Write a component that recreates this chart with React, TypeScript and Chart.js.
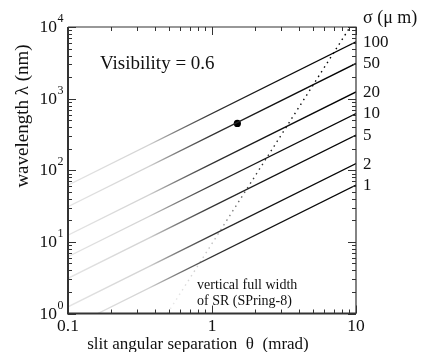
import React, { useEffect, useRef } from "react";
import { Chart, registerables } from "chart.js";

Chart.register(...registerables);

// ---- data ----
const thetaEnds = [0.1, 10]; // mrad
const sigmaLabels = ["1", "2", "5", "10", "20", "50", "100"]; // µm
const lambdaAtThetaMin = [0.62, 1.24, 3.1, 6.2, 12.4, 31, 62]; // nm at θ = 0.1
const lambdaAtThetaMax = [62, 124, 310, 620, 1240, 3100, 6200]; // nm at θ = 10
const srTheta = [0.49, 9.1];
const srLambda = [1, 10000];
const markTheta = [1.5];
const markLambda = [450];
const xMajorTicks = [0.1, 1, 10];
const xTickLabels = ["0.1", "1", "10"];
const yMajorTicks = [1, 10, 100, 1000, 10000];
const yTickExponents = ["0", "1", "2", "3", "4"];

const SERIF = '"Liberation Serif", "Times New Roman", serif';

function lineGradient(chart: any) {
  const { ctx, chartArea } = chart;
  if (!chartArea) return "#000";
  const g = ctx.createLinearGradient(chartArea.left, 0, chartArea.right, 0);
  g.addColorStop(0, "#e4e4e4");
  g.addColorStop(0.28, "#d2d2d2");
  g.addColorStop(0.37, "#808080");
  g.addColorStop(0.5, "#333");
  g.addColorStop(0.7, "#111");
  g.addColorStop(1, "#000");
  return g;
}

function srGradient(chart: any) {
  const { ctx, chartArea } = chart;
  if (!chartArea) return "#000";
  const g = ctx.createLinearGradient(0, chartArea.bottom, 0, chartArea.top);
  g.addColorStop(0, "#eeeeee");
  g.addColorStop(0.25, "#c0c0c0");
  g.addColorStop(0.45, "#444");
  g.addColorStop(0.7, "#111");
  g.addColorStop(1, "#000");
  return g;
}

const framePlugin = {
  id: "framePlugin",
  afterDraw(chart: any) {
    const { ctx, chartArea, scales } = chart;
    const xs = scales.x;
    const ys = scales.y;
    const { left, right, top, bottom } = chartArea;
    ctx.save();
    // ticks
    ctx.strokeStyle = "#333";
    ctx.lineWidth = 1;
    const minorMult = [2, 3, 4, 5, 6, 7, 8, 9];
    const drawXTick = (v: number, len: number) => {
      const px = Math.round(xs.getPixelForValue(v)) + 0.5;
      ctx.beginPath();
      ctx.moveTo(px, bottom);
      ctx.lineTo(px, bottom - len);
      ctx.moveTo(px, top);
      ctx.lineTo(px, top + len);
      ctx.stroke();
    };
    const drawYTick = (v: number, len: number) => {
      const py = Math.round(ys.getPixelForValue(v)) + 0.5;
      ctx.beginPath();
      ctx.moveTo(left, py);
      ctx.lineTo(left + len, py);
      ctx.moveTo(right, py);
      ctx.lineTo(right - len, py);
      ctx.stroke();
    };
    xMajorTicks.forEach((v) => drawXTick(v, 8));
    for (let i = 0; i < xMajorTicks.length - 1; i++) {
      minorMult.forEach((m) => drawXTick(xMajorTicks[i] * m, 4));
    }
    yMajorTicks.forEach((v) => drawYTick(v, 8));
    for (let i = 0; i < yMajorTicks.length - 1; i++) {
      minorMult.forEach((m) => drawYTick(yMajorTicks[i] * m, 4));
    }
    // frame
    ctx.strokeStyle = "#333";
    ctx.lineWidth = 1.2;
    ctx.beginPath();
    ctx.moveTo(left, top);
    ctx.lineTo(right, top);
    ctx.lineTo(right, bottom);
    ctx.stroke();
    ctx.lineWidth = 2;
    ctx.beginPath();
    ctx.moveTo(left, top);
    ctx.lineTo(left, bottom);
    ctx.lineTo(right, bottom);
    ctx.stroke();

    // tick labels
    ctx.fillStyle = "#111";
    ctx.textBaseline = "alphabetic";
    ctx.font = `17.5px ${SERIF}`;
    ctx.textAlign = "center";
    xMajorTicks.forEach((v, i) => {
      ctx.fillText(xTickLabels[i], xs.getPixelForValue(v), bottom + 17);
    });
    yMajorTicks.forEach((v, i) => {
      const py = ys.getPixelForValue(v);
      ctx.font = `17.5px ${SERIF}`;
      ctx.textAlign = "right";
      ctx.fillText("10", left - 11, py + 5);
      ctx.font = `12px ${SERIF}`;
      ctx.textAlign = "left";
      ctx.fillText(yTickExponents[i], left - 10.5, py - 5);
    });

    // sigma labels
    ctx.font = `17px ${SERIF}`;
    ctx.textAlign = "left";
    sigmaLabels.forEach((s, i) => {
      const py = ys.getPixelForValue(lambdaAtThetaMax[i]);
      ctx.fillText(s, right + 7, py + 5);
    });
    ctx.font = `18px ${SERIF}`;
    ctx.fillText("σ (μ m)", right + 7, top - 4);

    // annotations
    ctx.font = `19px ${SERIF}`;
    ctx.fillText("Visibility = 0.6", left + 32, top + 42);
    ctx.font = `14px ${SERIF}`;
    ctx.fillText("vertical full width", left + 129, bottom - 25);
    ctx.fillText("of SR (SPring-8)", left + 129, bottom - 9);

    // axis titles
    ctx.font = `17px ${SERIF}`;
    ctx.textAlign = "center";
    ctx.fillText("slit angular separation  θ  (mrad)", 198, bottom + 35);
    ctx.save();
    ctx.translate(28, 116);
    ctx.rotate(-Math.PI / 2);
    ctx.font = `19px ${SERIF}`;
    ctx.fillText("wavelength λ (nm)", 0, 0);
    ctx.restore();

    ctx.restore();
  },
};

export default function App() {
  const ref = useRef<HTMLCanvasElement | null>(null);
  useEffect(() => {
    if (!ref.current) return;
    const datasets: any[] = sigmaLabels.map((s, i) => ({
      label: `σ=${s}`,
      data: [
        { x: thetaEnds[0], y: lambdaAtThetaMin[i] },
        { x: thetaEnds[1], y: lambdaAtThetaMax[i] },
      ],
      showLine: true,
      borderColor: (c: any) => lineGradient(c.chart),
      borderWidth: 1.3,
      pointRadius: 0,
      fill: false,
    }));
    datasets.push({
      label: "SR",
      data: srTheta.map((t, i) => ({ x: t, y: srLambda[i] })),
      showLine: true,
      borderColor: (c: any) => srGradient(c.chart),
      borderWidth: 1.4,
      borderDash: [1.5, 4],
      pointRadius: 0,
      fill: false,
    });
    datasets.push({
      label: "mark",
      data: markTheta.map((t, i) => ({ x: t, y: markLambda[i] })),
      showLine: false,
      pointRadius: 3.6,
      pointBackgroundColor: "#000",
      pointBorderColor: "#000",
      borderWidth: 0,
    });
    const chart = new Chart(ref.current, {
      type: "scatter",
      data: { datasets },
      options: {
        responsive: false,
        animation: false,
        devicePixelRatio: 1,
        layout: { padding: { left: 68, top: 27, right: 67, bottom: 38.5 } },
        plugins: { legend: { display: false }, tooltip: { enabled: false } },
        scales: {
          x: { type: "logarithmic", min: 0.1, max: 10, display: false },
          y: { type: "logarithmic", min: 1, max: 10000, display: false },
        },
      },
      plugins: [framePlugin],
    } as any);
    return () => chart.destroy();
  }, []);
  return (
    <div style={{ position: "fixed", left: 0, top: 0, width: 423, height: 352, background: "#fff" }}>
      <canvas ref={ref} width={423} height={352} style={{ display: "block" }} />
    </div>
  );
}
